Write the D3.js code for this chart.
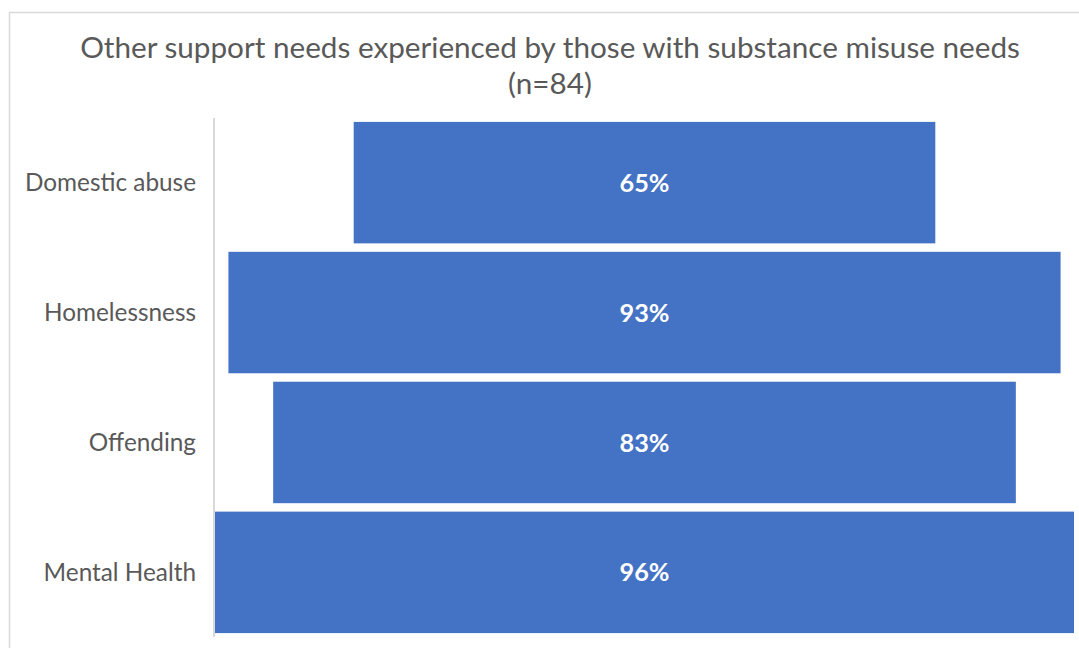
<!DOCTYPE html>
<html>
<head>
<meta charset="utf-8">
<script src="https://cdn.jsdelivr.net/npm/d3@7"></script>
<style>
  html, body { margin: 0; padding: 0; background: #ffffff; }
  svg { display: block; font-family: Lato, "Open Sans", sans-serif; }
</style>
</head>
<body>
<svg id="chart" width="1079" height="648"></svg>
<script>
// Share of people with substance misuse needs who also have each support need (%)
const categories = ["Domestic abuse", "Homelessness", "Offending", "Mental Health"];
const values = [65, 93, 83, 96];
const titleLines = ["Other support needs experienced by those with substance misuse needs", "(n=84)"];

const svg = d3.select("#chart");
const W = 1079, H = 648;
const plot = { left: 214, right: 1074, top: 118, bottom: 637 };
const barColor = "#4472C4";
const textColor = "#595959";
const lineColor = "#d9d9d9";

// chart area outline (runs off the right and bottom of the view)
svg.append("rect")
  .attr("x", 9.5).attr("y", 12.5)
  .attr("width", W + 20).attr("height", H + 20)
  .attr("fill", "none").attr("stroke", lineColor).attr("stroke-width", 1.5);

// Funnel: each bar is centred, spanning -v/2 .. +v/2
const maxV = d3.max(values);
const x = d3.scaleLinear().domain([-maxV / 2, maxV / 2]).range([plot.left + 1, plot.right]);
const y = d3.scaleBand().domain(categories).range([plot.top, plot.bottom])
  .paddingInner(0.065).paddingOuter(0.03);

const data = categories.map((c, i) => ({ c, v: values[i] }));

svg.append("g").selectAll("rect").data(data).join("rect")
  .attr("x", d => x(-d.v / 2))
  .attr("width", d => x(d.v / 2) - x(-d.v / 2))
  .attr("y", d => y(d.c))
  .attr("height", y.bandwidth())
  .attr("fill", barColor);

// vertical category axis
const yAxis = svg.append("g")
  .attr("transform", `translate(${plot.left},0)`)
  .call(d3.axisLeft(y).tickSize(0).tickPadding(18));
yAxis.select(".domain").attr("stroke", lineColor).attr("stroke-width", 2)
  .attr("d", `M0,${plot.top}V${plot.bottom}`);
yAxis.selectAll("text")
  .attr("fill", textColor)
  .style("font-size", "22px")
  .style("font-family", "Lato, 'Open Sans', sans-serif")
  .attr("dy", "0.35em");

// value labels inside bars
const valueLabels = svg.append("g").selectAll("text").data(data).join("text")
  .attr("x", d => x(0))
  .attr("y", d => y(d.c) + y.bandwidth() / 2)
  .attr("dy", "0.36em")
  .attr("text-anchor", "middle")
  .attr("fill", "#ffffff")
  .style("font-size", "22px")
  .style("font-weight", "bold")
  .text(d => d.v + "%");

// title
const title = svg.append("g");
title.selectAll("text").data(titleLines).join("text")
  .attr("x", 550)
  .attr("y", (d, i) => 58 + i * 36)
  .attr("text-anchor", "middle")
  .attr("fill", textColor)
  .style("font-size", "30px")
  .text(d => d);

// size the title so its first line spans the chart width
const t0 = title.select("text").node();
const fs = 30 * 940 / t0.getComputedTextLength();
title.selectAll("text").style("font-size", fs.toFixed(2) + "px");

// size category labels to their typical width
const labelNode = yAxis.selectAll("text").filter(d => d === "Domestic abuse").node();
const lfs = 22 * 171 / labelNode.getComputedTextLength();
yAxis.selectAll("text").style("font-size", lfs.toFixed(2) + "px");

// size value labels
const vNode = valueLabels.node();
const vfs = 22 * 50 / vNode.getComputedTextLength();
valueLabels.style("font-size", vfs.toFixed(2) + "px");
</script>
</body>
</html>
